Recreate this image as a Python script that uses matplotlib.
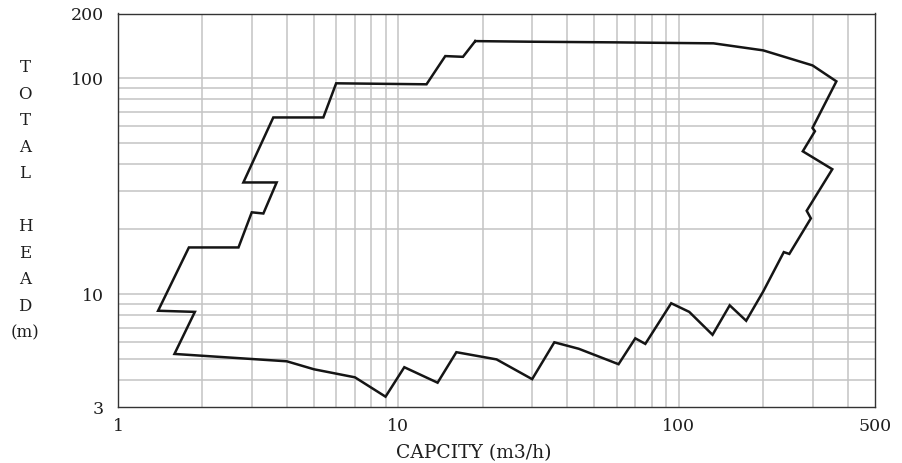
import numpy as np
import matplotlib
matplotlib.use("Agg")
import matplotlib.pyplot as plt
from matplotlib.ticker import FixedLocator, NullFormatter, FixedFormatter

# pump range envelope, traced clockwise from the top-left corner
capacity = [18.8, 30, 60, 100, 133, 200, 300, 365, 300, 306, 277, 353, 286, 296,
            248, 237, 200, 174, 152, 132, 109, 94, 76, 70, 61, 44, 36, 30, 22.4,
            16.1, 13.8, 10.5, 9.0, 7.0, 5.0, 4.0, 1.59, 1.88, 1.39, 1.79, 2.69,
            3.0, 3.3, 3.68, 2.8, 3.58, 5.4, 6.0, 12.6, 14.7, 17.0, 18.8]
head = [149, 148, 147, 146, 145.5, 135, 115, 97, 59, 57, 46, 38, 24.4, 22.5,
        15.4, 15.7, 10.3, 7.55, 8.9, 6.5, 8.3, 9.1, 5.9, 6.26, 4.75, 5.6, 6.0,
        4.05, 5.0, 5.4, 3.9, 4.6, 3.36, 4.13, 4.5, 4.9, 5.3, 8.3, 8.4, 16.5,
        16.5, 24, 23.7, 33, 33, 66, 66, 95, 94, 127, 126, 149]

x_ticks = [1, 10, 100, 500]
y_ticks = [3, 10, 100, 200]
x_grid = [2, 3, 4, 5, 6, 7, 8, 9, 10, 20, 30, 40, 50, 60, 70, 80, 90, 100, 200, 300, 400]
y_grid = [4, 5, 6, 7, 8, 9, 10, 20, 30, 40, 50, 60, 70, 80, 90, 100]
ylabel_chars = ["T", "O", "T", "A", "L", "", "H", "E", "A", "D", "(m)"]

W, H = 903, 463
fig = plt.figure(figsize=(W / 100, H / 100), dpi=100)
ax = fig.add_axes([118 / W, 1 - 407.3 / H, (874.7 - 118) / W, (407.3 - 13.5) / H])

ax.set_xscale("log")
ax.set_yscale("log")
ax.set_xlim(1, 500)
ax.set_ylim(3, 200)

for g in x_grid:
    ax.axvline(g, color="#c4c4c4", lw=1.1, zorder=1)
for g in y_grid:
    ax.axhline(g, color="#c4c4c4", lw=1.1, zorder=1)

ax.plot(capacity, head, color="#151515", lw=1.8, zorder=3, solid_joinstyle="miter")

serif = "DejaVu Serif"
ax.xaxis.set_major_locator(FixedLocator(x_ticks))
ax.xaxis.set_major_formatter(FixedFormatter([str(t) for t in x_ticks]))
ax.xaxis.set_minor_locator(FixedLocator([]))
ax.xaxis.set_minor_formatter(NullFormatter())
ax.yaxis.set_major_locator(FixedLocator(y_ticks))
ax.yaxis.set_major_formatter(FixedFormatter([str(t) for t in y_ticks]))
ax.yaxis.set_minor_locator(FixedLocator([]))
ax.yaxis.set_minor_formatter(NullFormatter())
ax.tick_params(axis="x", length=0, pad=8, labelsize=12.5, colors="#1e1e1e")
ax.tick_params(axis="y", length=0, pad=10, labelsize=12.5, colors="#1e1e1e")
for lab in ax.get_xticklabels() + ax.get_yticklabels():
    lab.set_fontfamily(serif)

for sp in ax.spines.values():
    sp.set_color("#333333")
    sp.set_linewidth(1.0)

fig.text(474 / W, 1 - 453 / H, "CAPCITY (m3/h)", ha="center", va="center",
         fontsize=13.5, family=serif, color="#1e1e1e")

for i, ch in enumerate(ylabel_chars):
    fig.text(25 / W, 1 - (67.5 + i * 26.55) / H, ch, ha="center", va="center",
             fontsize=12, family=serif, color="#1e1e1e")

fig.savefig("out.png", dpi=100)
